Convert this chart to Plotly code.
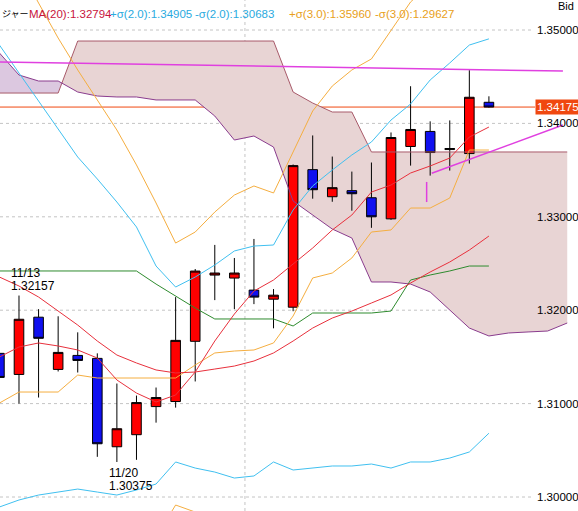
import plotly.graph_objects as go

# ---------------- data ----------------
candle_x = list(range(26))
opens  = [1.31538, 1.31312, 1.31925, 1.31366, 1.31516, 1.31484, 1.30538, 1.30667, 1.30968, 1.31022,
          1.31667, 1.32376, 1.32344, 1.32215, 1.32118, 1.32032, 1.33505, 1.33215, 1.33280, 1.33204,
          1.32978, 1.33753, 1.33914, 1.33720, 1.33677, 1.34226]
highs  = [1.31600, 1.32157, 1.32011, 1.31935, 1.31763, 1.31538, 1.31215, 1.31086, 1.31172, 1.32140,
          1.32441, 1.32699, 1.32559, 1.32763, 1.32226, 1.33560, 1.33871, 1.33645, 1.33484, 1.33581,
          1.33903, 1.34398, 1.34022, 1.34032, 1.34570, 1.34290]
lows   = [1.31250, 1.31000, 1.31065, 1.31344, 1.31333, 1.30430, 1.30375, 1.30398, 1.30796, 1.30957,
          1.31237, 1.32108, 1.32011, 1.32065, 1.31806, 1.31989, 1.33194, 1.33161, 1.33065, 1.32882,
          1.32968, 1.33548, 1.33441, 1.33495, 1.33570, 1.34170]
closes = [1.31280, 1.31903, 1.31699, 1.31548, 1.31462, 1.30570, 1.30731, 1.31011, 1.31065, 1.31677,
          1.32419, 1.32398, 1.32398, 1.32140, 1.32161, 1.33548, 1.33290, 1.33312, 1.33247, 1.33000,
          1.33849, 1.33935, 1.33688, 1.33731, 1.34280, 1.34175]

ma20    = [1.32355, 1.32259, 1.32141, 1.31991, 1.31841, 1.31670, 1.31520, 1.31435, 1.31360, 1.31328,
           1.31338, 1.31370, 1.31402, 1.31456, 1.31542, 1.31670, 1.31809, 1.31916, 1.31991, 1.32077,
           1.32163, 1.32291, 1.32409, 1.32516, 1.32644, 1.32794]
bb_up2  = [1.34839, 1.34540, 1.34240, 1.33929, 1.33640, 1.33405, 1.33158, 1.32891, 1.32473, 1.32248,
           1.32355, 1.32484, 1.32634, 1.32687, 1.32698, 1.33073, 1.33330, 1.33501, 1.33662, 1.33801,
           1.34036, 1.34208, 1.34465, 1.34647, 1.34839, 1.34905]
bb_dn2  = [1.29893, 1.29968, 1.30021, 1.30053, 1.30085, 1.30053, 1.30021, 1.30075, 1.30139, 1.30375,
           1.30310, 1.30267, 1.30203, 1.30225, 1.30375, 1.30289, 1.30310, 1.30332, 1.30332, 1.30353,
           1.30310, 1.30375, 1.30375, 1.30417, 1.30482, 1.30683]
bb_up3  = [1.36081, 1.35675, 1.35289, 1.34914, 1.34572, 1.34251, 1.33929, 1.33555, 1.33148, 1.32719,
           1.32837, 1.33051, 1.33233, 1.33330, 1.33255, 1.33694, 1.34133, 1.34400, 1.34572, 1.34690,
           1.35000, 1.35300, 1.35493, 1.35707, 1.35931, 1.35960]
bb_dn3  = [1.28629, 1.28843, 1.28993, 1.29068, 1.29111, 1.29090, 1.29111, 1.29315, 1.29572, 1.29914,
           1.29839, 1.29689, 1.29572, 1.29582, 1.29829, 1.29647, 1.29486, 1.29432, 1.29411, 1.29465,
           1.29325, 1.29283, 1.29325, 1.29325, 1.29357, 1.29627]

conv_line  = [1.31499, 1.31606, 1.31649, 1.31617, 1.31574, 1.31488, 1.31253, 1.31113, 1.31017, 1.31092,
              1.31338, 1.31670, 1.31959, 1.32205, 1.32323, 1.32495, 1.32666, 1.32859, 1.33019, 1.33265,
              1.33340, 1.33469, 1.33544, 1.33629, 1.33854, 1.33961]
green_line = [1.32420, 1.32420, 1.32420, 1.32420, 1.32420, 1.32420, 1.32420, 1.32420, 1.32280, 1.32152,
              1.32023, 1.31906, 1.31906, 1.31906, 1.31906, 1.31831, 1.31970, 1.31970, 1.31970, 1.31970,
              1.31991, 1.32323, 1.32377, 1.32420, 1.32473, 1.32473]
base_line  = [1.31006, 1.31124, 1.31124, 1.31124, 1.31306, 1.31274, 1.31274, 1.31274, 1.31274, 1.31274,
              1.31413, 1.31542, 1.31563, 1.31574, 1.31649, 1.31938, 1.32345, 1.32398, 1.32559, 1.32837,
              1.32859, 1.33094, 1.33094, 1.33201, 1.33715, 1.33715]

span_x = list(range(30))
span_a = [1.34754, 1.34518, 1.34454, 1.34454, 1.34336, 1.34293, 1.34283, 1.34283, 1.34251, 1.34251,
          1.34251, 1.34079, 1.33822, 1.33865, 1.33747, 1.33169, 1.33019, 1.32869, 1.32773, 1.32302,
          1.32302, 1.32280, 1.32195, 1.32002, 1.31809, 1.31724, 1.31756, 1.31767, 1.31777, 1.31863]
span_b = [1.34325, 1.34325, 1.34325, 1.34325, 1.34882, 1.34882, 1.34882, 1.34882, 1.34882, 1.34882,
          1.34882, 1.34882, 1.34882, 1.34882, 1.34882, 1.34336, 1.34218, 1.34122, 1.34122, 1.33694,
          1.33694, 1.33694, 1.33694, 1.33694, 1.33694, 1.33694, 1.33694, 1.33694, 1.33694, 1.33694]

trend1_x = [0.03, 28.78]
trend1_y = [1.34657, 1.34561]
trend2_x = [22.08, 28.78]
trend2_y = [1.33466, 1.33983]
marker_x = [21.82, 21.82]
marker_y = [1.33373, 1.33158]

last_price = 1.34175
y_ticks = [1.30, 1.31, 1.32, 1.33, 1.34, 1.35]
y_tick_labels = ["1.30000", "1.31000", "1.32000", "1.33000", "1.34000", "1.35000"]
vgrid_x = [12.54]

high_label = ("11/13", "1.32157", 1)
low_label = ("11/20", "1.30375", 6)

header_parts = [
    ("ジャー", "#000000"),
    ("MA(20):1.32794", "#C8143C"),
    ("+σ(2.0):1.34905", "#2AAAE0"),
    ("-σ(2.0):1.30683", "#2AAAE0"),
    ("+σ(3.0):1.35960", "#E8A020"),
    ("-σ(3.0):1.29627", "#E8A020"),
]
header_px = [0, 27, 108, 193, 287, 373]

W, H = 578, 511
X_RANGE = [0.03, 29.55]
Y_RANGE = [1.298501, 1.353212]
FONT = "Liberation Sans, Arial, sans-serif"

fig = go.Figure()

# ---------------- cloud (shapes, below traces) ----------------
shapes = []


def cloud_regions(xs, a, b):
    regions = []
    cur_a, cur_b = [], []
    s = a[0] >= b[0]
    for k in range(len(xs)):
        sk = a[k] >= b[k]
        if k > 0 and sk != s:
            d0 = a[k - 1] - b[k - 1]
            d1 = a[k] - b[k]
            t = d0 / (d0 - d1)
            xc = xs[k - 1] + t * (xs[k] - xs[k - 1])
            yc = a[k - 1] + t * (a[k] - a[k - 1])
            cur_a.append((xc, yc))
            cur_b.append((xc, yc))
            regions.append((s, cur_a, cur_b))
            cur_a, cur_b = [(xc, yc)], [(xc, yc)]
            s = sk
        cur_a.append((xs[k], a[k]))
        cur_b.append((xs[k], b[k]))
    regions.append((s, cur_a, cur_b))
    return regions


for a_above, pa, pb in cloud_regions(span_x, span_a, span_b):
    pts = pa + pb[::-1]
    path = "M " + " L ".join(f"{x},{y}" for x, y in pts) + " Z"
    shapes.append(dict(type="path", path=path, xref="x", yref="y",
                       fillcolor="#DCC8E0" if a_above else "#E8D4D4",
                       line=dict(width=0), layer="below"))

# grid lines
for yv in y_ticks:
    shapes.append(dict(type="line", xref="paper", yref="y", x0=0, x1=533 / W, y0=yv, y1=yv,
                       line=dict(color="#C4C4C4", width=1, dash="3px,3px"), layer="below"))
for xv in vgrid_x:
    shapes.append(dict(type="line", xref="x", yref="paper", x0=xv, x1=xv, y0=0, y1=1,
                       line=dict(color="#C4C4C4", width=1, dash="3px,3px"), layer="below"))

# current price line
shapes.append(dict(type="line", xref="paper", yref="y", x0=0, x1=535 / W, y0=last_price, y1=last_price,
                   line=dict(color="#F04810", width=1), layer="below"))

# ---------------- candles ----------------
fig.add_trace(go.Candlestick(
    x=candle_x, open=opens, high=highs, low=lows, close=closes,
    increasing=dict(fillcolor="#FF0000", line=dict(color="#000000", width=1)),
    decreasing=dict(fillcolor="#1010F0", line=dict(color="#000000", width=1)),
    whiskerwidth=0, hoverinfo="skip", showlegend=False,
))


def add_line(x, y, color, width=1):
    fig.add_trace(go.Scatter(x=x, y=y, mode="lines", line=dict(color=color, width=width),
                             hoverinfo="skip", showlegend=False))


add_line(span_x, span_b, "#A85A6A")
add_line(span_x, span_a, "#8A3C8E")
add_line(candle_x, bb_up3, "#F5AE40")
add_line(candle_x, bb_dn3, "#F5AE40")
add_line(candle_x, bb_up2, "#40C0F0")
add_line(candle_x, bb_dn2, "#40C0F0")
add_line(candle_x, green_line, "#2E8B2E")
add_line(candle_x, base_line, "#F5AE40")
add_line(candle_x, ma20, "#E8303C")
add_line(candle_x, conv_line, "#E8303C")
add_line(trend1_x, trend1_y, "#E040E0", 1.5)
add_line(trend2_x, trend2_y, "#E040E0", 1.5)
add_line(marker_x, marker_y, "#E040E0", 1.5)

# ---------------- annotations ----------------
ann = []
for yv, lab in zip(y_ticks, y_tick_labels):
    ann.append(dict(x=535 / W, y=yv, xref="paper", yref="y", text=lab, showarrow=False,
                    xanchor="left", yanchor="middle", font=dict(family=FONT, size=11.5, color="#000000")))

ann.append(dict(x=535 / W, y=last_price, xref="paper", yref="y", text=f"{last_price:.5f}",
                showarrow=False, xanchor="left", yanchor="middle", bgcolor="#F04810", borderpad=1,
                font=dict(family=FONT, size=11.5, color="#FFFFFF")))

# high / low labels
d, p, i = high_label
ann.append(dict(x=candle_x[i], y=highs[i], xref="x", yref="y", text=d, showarrow=False,
                xanchor="left", yanchor="bottom", xshift=-10, yshift=14,
                font=dict(family=FONT, size=12, color="#000000")))
ann.append(dict(x=candle_x[i], y=highs[i], xref="x", yref="y", text=p, showarrow=False,
                xanchor="left", yanchor="bottom", xshift=-10, yshift=1,
                font=dict(family=FONT, size=12, color="#000000")))
d, p, i = low_label
ann.append(dict(x=candle_x[i], y=lows[i], xref="x", yref="y", text=d, showarrow=False,
                xanchor="left", yanchor="top", xshift=-10, yshift=-2,
                font=dict(family=FONT, size=12, color="#000000")))
ann.append(dict(x=candle_x[i], y=lows[i], xref="x", yref="y", text=p, showarrow=False,
                xanchor="left", yanchor="top", xshift=-10, yshift=-15,
                font=dict(family=FONT, size=12, color="#000000")))

# header
for k, ((txt, col), px) in enumerate(zip(header_parts, header_px)):
    ann.append(dict(x=px / W, y=1 - 14 / H, xref="paper", yref="paper", text=txt, showarrow=False,
                    xanchor="left", yanchor="middle",
                    font=dict(family="Liberation Sans, Noto Sans CJK JP, sans-serif",
                              size=9 if k == 0 else 11.5, color=col)))
ann.append(dict(x=556 / W, y=1 - 6 / H, xref="paper", yref="paper", text="Bid", showarrow=False,
                xanchor="left", yanchor="middle", font=dict(family=FONT, size=11, color="#000000")))

fig.update_layout(
    width=W, height=H, margin=dict(l=0, r=0, t=0, b=0),
    paper_bgcolor="#FFFFFF", plot_bgcolor="#FFFFFF",
    showlegend=False, hovermode=False,
    xaxis=dict(range=X_RANGE, visible=False, rangeslider=dict(visible=False), fixedrange=True),
    yaxis=dict(range=Y_RANGE, visible=False, fixedrange=True),
    shapes=shapes, annotations=ann,
)

fig.write_html("out.html", config={"displayModeBar": False},
               post_script="document.body.style.margin='0px';document.body.style.overflow='hidden';")
